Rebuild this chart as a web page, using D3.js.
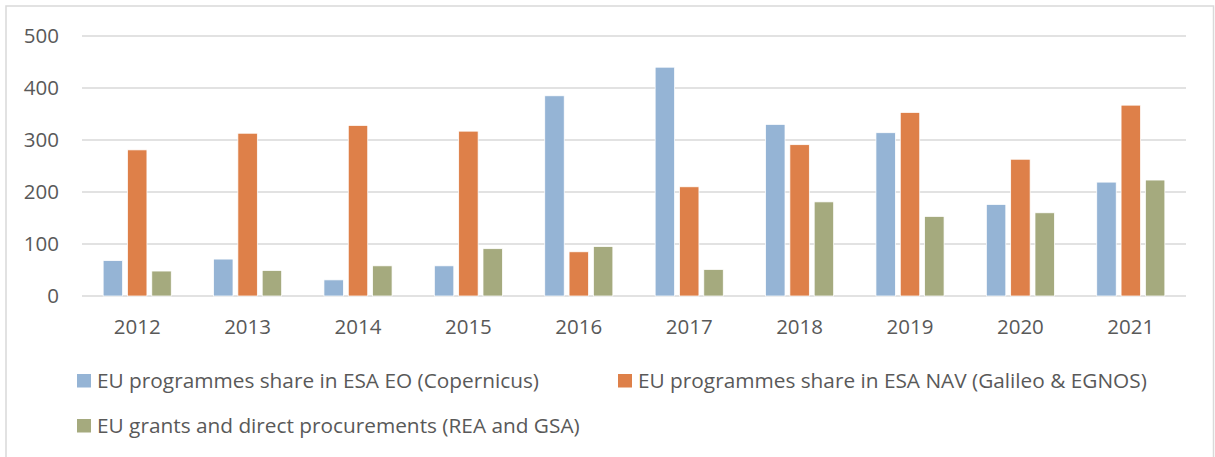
<!DOCTYPE html>
<html>
<head>
<meta charset="utf-8">
<script src="https://cdn.jsdelivr.net/npm/d3@7"></script>
<style>
  body { margin: 0; background: #fff; }
  svg { display: block; font-family: "Open Sans", sans-serif; }
</style>
</head>
<body>
<svg id="chart" width="1215" height="457"></svg>
<script>

const years = ["2012", "2013", "2014", "2015", "2016", "2017", "2018", "2019", "2020", "2021"];
const seriesNames = [
  "EU programmes share in ESA EO (Copernicus)",
  "EU programmes share in ESA NAV (Galileo & EGNOS)",
  "EU grants and direct procurements (REA and GSA)"
];
const copernicus = [68, 71, 31, 58, 385, 440, 330, 314, 176, 219];
const galileo = [281, 313, 328, 317, 85, 210, 291, 353, 263, 367];
const grants = [48, 49, 58, 91, 95, 51, 181, 153, 160, 223];
const yTicks = [0, 100, 200, 300, 400, 500];
const colors = ["#95b4d5", "#de8049", "#a5aa7e"];

const svg = d3.select("#chart");

// chart frame
svg.append("rect")
  .attr("x", 6).attr("y", 6)
  .attr("width", 1207.5).attr("height", 480)
  .attr("fill", "none")
  .attr("stroke", "#d9d9d9")
  .attr("stroke-width", 1.5);

const margin = { left: 82, right: 29, top: 36, bottom: 161 };
const plotW = 1215 - margin.left - margin.right;
const plotH = 457 - margin.top - margin.bottom;

const chart = svg.append("g")
  .attr("transform", `translate(${margin.left},${margin.top})`);

const x0 = d3.scaleBand()
  .domain(years)
  .range([0, plotW])
  .paddingInner(0.339)
  .paddingOuter(0.1695);

const x1 = d3.scaleBand()
  .domain([0, 1, 2])
  .range([0, x0.bandwidth()])
  .paddingInner(0.2)
  .paddingOuter(0.1);

const y = d3.scaleLinear()
  .domain([0, 500])
  .range([plotH, 0]);

// gridlines
chart.append("g")
  .selectAll("line")
  .data(yTicks)
  .join("line")
  .attr("x1", 0)
  .attr("x2", plotW)
  .attr("y1", d => y(d))
  .attr("y2", d => y(d))
  .attr("stroke", "#d9d9d9")
  .attr("stroke-width", 1.5);

// y labels
chart.append("g")
  .selectAll("text")
  .data(yTicks)
  .join("text")
  .attr("x", -23)
  .attr("y", d => y(d))
  .attr("dy", "0.36em")
  .attr("text-anchor", "end")
  .attr("fill", "#595959")
  .style("font-size", "20.5px")
  .text(d => d);

// bars
const rows = years.map((yr, i) => ({ year: yr, values: [copernicus[i], galileo[i], grants[i]] }));

chart.append("g")
  .selectAll("g")
  .data(rows)
  .join("g")
  .attr("transform", d => `translate(${x0(d.year)},0)`)
  .selectAll("rect")
  .data(d => d.values.map((v, k) => ({ k: k, v: v })))
  .join("rect")
  .attr("x", d => x1(d.k))
  .attr("width", x1.bandwidth())
  .attr("y", d => y(d.v))
  .attr("height", d => y(0) - y(d.v))
  .attr("fill", d => colors[d.k])
  .attr("stroke", "#fff")
  .attr("stroke-width", 0.75);

// x labels
chart.append("g")
  .selectAll("text")
  .data(years)
  .join("text")
  .attr("x", d => x0(d) + x0.bandwidth() / 2)
  .attr("y", plotH + 38)
  .attr("text-anchor", "middle")
  .attr("fill", "#595959")
  .style("font-size", "20.5px")
  .text(d => d);

// legend
const legendPos = [
  { x: 77, y: 374 },
  { x: 618, y: 374 },
  { x: 77, y: 419 }
];

const legend = svg.append("g")
  .selectAll("g")
  .data(seriesNames)
  .join("g")
  .attr("transform", (d, i) => `translate(${legendPos[i].x},${legendPos[i].y})`);

legend.append("rect")
  .attr("width", 14)
  .attr("height", 13.5)
  .attr("fill", (d, i) => colors[i]);

legend.append("text")
  .attr("x", 20)
  .attr("y", 13.8)
  .attr("fill", "#595959")
  .style("font-size", "20.8px")
  .text(d => d);

</script>
</body>
</html>
